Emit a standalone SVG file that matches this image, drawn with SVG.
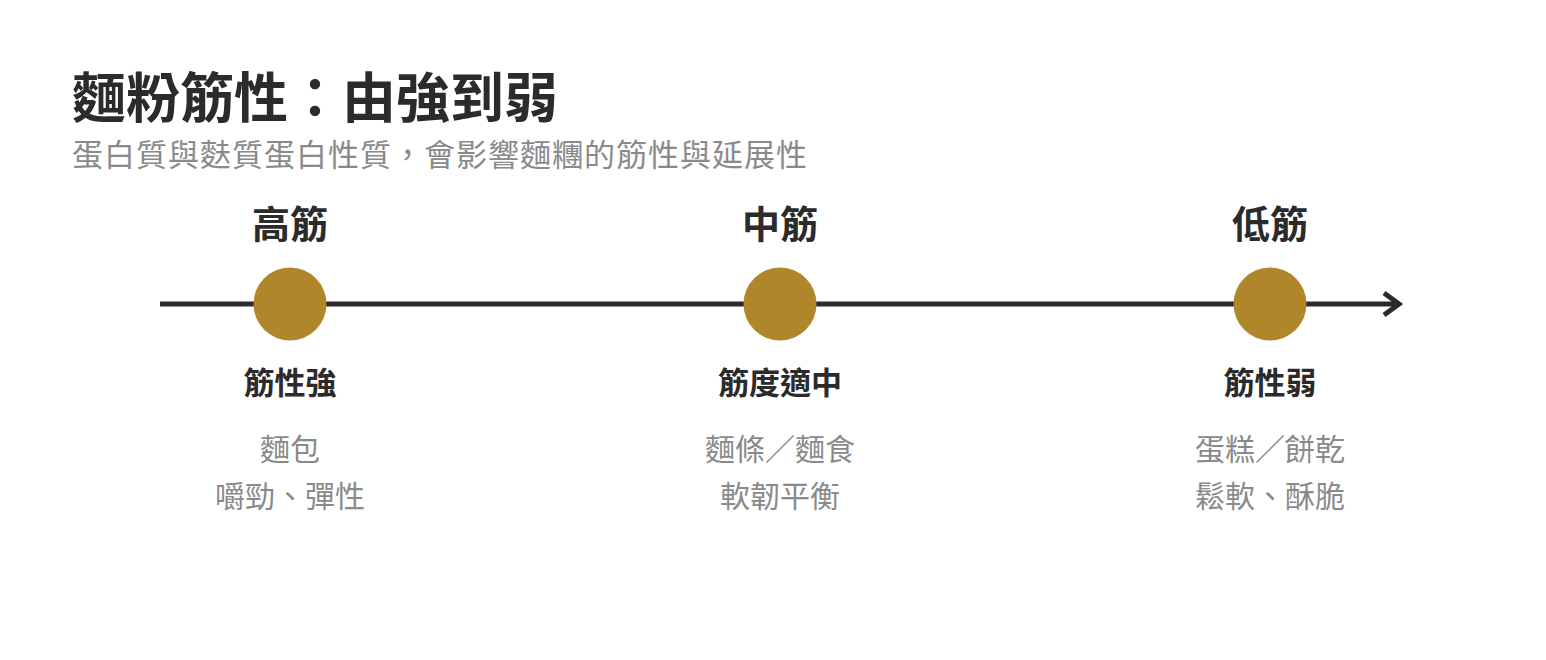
<svg xmlns="http://www.w3.org/2000/svg" width="1546" height="660" viewBox="0 0 1546 660">
<style>
text{font-family:"Noto Sans CJK TC","Noto Sans CJK SC",sans-serif}
.title{font-size:54px;font-weight:700;fill:#2b2b2b}
.sub{font-size:31px;fill:#8a8a8a;letter-spacing:1px}
.head{font-size:38px;font-weight:700;fill:#2b2b2b;text-anchor:middle}
.lab{font-size:31px;font-weight:700;fill:#2b2b2b;text-anchor:middle}
.desc{font-size:30px;fill:#8a8a8a;text-anchor:middle}
.dot{fill:#b0862b}
.axis{stroke:#2b2b2b;stroke-width:5;fill:none}
</style>
<rect width="1546" height="660" fill="#ffffff"/>
<text class="title" x="72" y="118">麵粉筋性：由強到弱</text>
<text class="sub" x="72" y="166">蛋白質與麩質蛋白性質，會影響麵糰的筋性與延展性</text>
<g id="connectors">
<line class="axis" x1="160" y1="304" x2="1399" y2="304"/>
<polyline class="axis" points="1384,293 1399,304 1384,315" stroke-width="6"/>
</g>
<g id="node-high">
<text class="head" x="290" y="238">高筋</text>
<circle class="dot" cx="290" cy="304" r="36.5"/>
<text class="lab" x="290" y="394">筋性強</text>
<text class="desc" x="290" y="460">麵包</text>
<text class="desc" x="290" y="507">嚼勁、彈性</text>
</g>
<g id="node-mid">
<text class="head" x="780" y="238">中筋</text>
<circle class="dot" cx="780" cy="304" r="36.5"/>
<text class="lab" x="780" y="394">筋度適中</text>
<text class="desc" x="780" y="460">麵條／麵食</text>
<text class="desc" x="780" y="507">軟韌平衡</text>
</g>
<g id="node-low">
<text class="head" x="1270" y="238">低筋</text>
<circle class="dot" cx="1270" cy="304" r="36.5"/>
<text class="lab" x="1270" y="394">筋性弱</text>
<text class="desc" x="1270" y="460">蛋糕／餅乾</text>
<text class="desc" x="1270" y="507">鬆軟、酥脆</text>
</g>
</svg>
